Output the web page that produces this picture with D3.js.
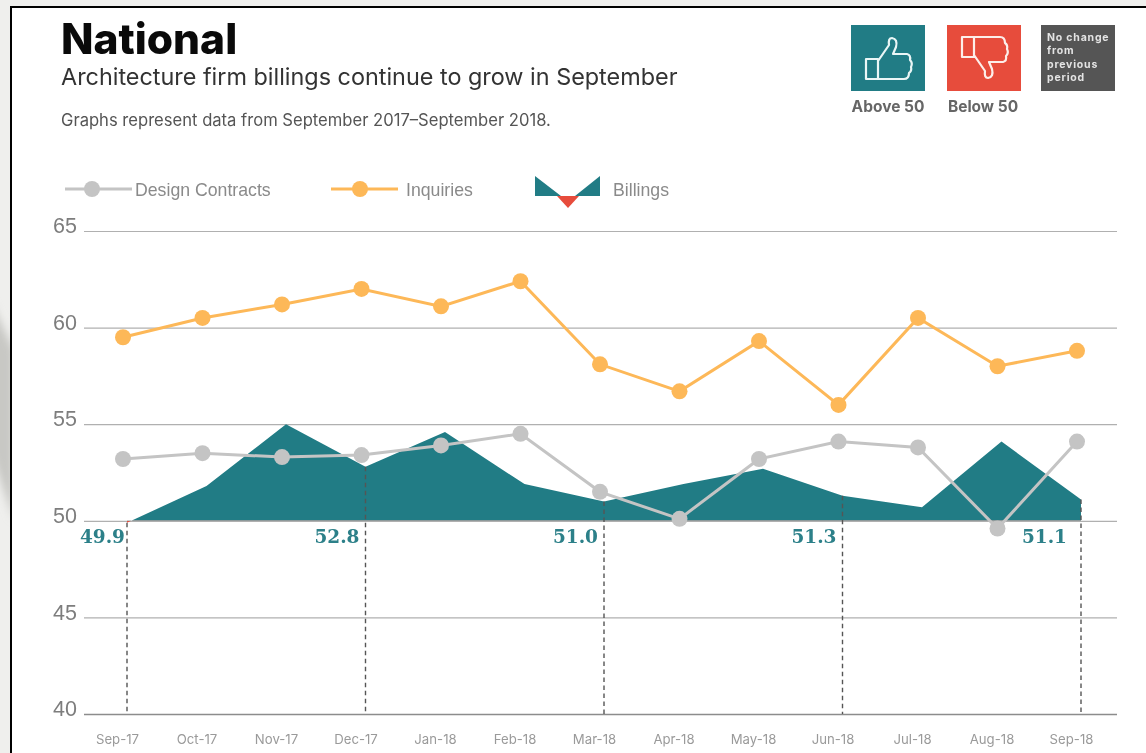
<!DOCTYPE html>
<html>
<head>
<meta charset="utf-8">
<title>National</title>
<script src="https://cdn.jsdelivr.net/npm/d3@7"></script>
<style>
  html, body { margin: 0; padding: 0; background: #fff; overflow: hidden; }
  svg { display: block; filter: blur(0.45px); }
  .y-axis text { font-family: "Liberation Sans", sans-serif; font-size: 21.5px; fill: #7d7d7d; }
  .x-axis text { font-family: "Inter", sans-serif; font-size: 13.2px; fill: #9a9a9a; }
  .legend text { font-family: "Liberation Sans", sans-serif; font-size: 17.7px; fill: #8a8a8a; }
</style>
</head>
<body>
<div id="chart"></div>
<script>
// Data
var months = ["Sep-17", "Oct-17", "Nov-17", "Dec-17", "Jan-18", "Feb-18", "Mar-18",
  "Apr-18", "May-18", "Jun-18", "Jul-18", "Aug-18", "Sep-18"];
var billings = [49.9, 51.8, 55.0, 52.8, 54.6, 51.9, 51.0, 51.9, 52.7, 51.3, 50.7, 54.1, 51.1];
var inquiries = [59.5, 60.5, 61.2, 62.0, 61.1, 62.4, 58.1, 56.7, 59.3, 56.0, 60.5, 58.0, 58.8];
var designContracts = [53.2, 53.5, 53.3, 53.4, 53.9, 54.5, 51.5, 50.1, 53.2, 54.1, 53.8, 49.6, 54.1];
var labelledMonths = ["Sep-17", "Dec-17", "Mar-18", "Jun-18", "Sep-18"];
var yTicks = [40, 45, 50, 55, 60, 65];

var teal = "#217c85", red = "#e74c3c", slate = "#555555";
var orange = "#fdb858", silver = "#c4c4c4";

var width = 1146, height = 753;

var svg = d3.select("#chart").append("svg")
  .attr("width", width)
  .attr("height", height);

var defs = svg.append("defs");
defs.append("filter").attr("id", "soft")
  .append("feGaussianBlur").attr("stdDeviation", 4);

// Grey backdrop and black frame around the graphic
svg.append("rect").attr("width", width).attr("height", height).attr("fill", "#efefed");
svg.append("path")
  .attr("d", "M-10 300 L14 350 L14 520 L-10 450 Z")
  .attr("fill", "#c8c8c4")
  .attr("filter", "url(#soft)");
svg.append("rect")
  .attr("x", 11).attr("y", 7)
  .attr("width", width - 11).attr("height", height - 7)
  .attr("fill", "#fff");
svg.append("path")
  .attr("d", "M11 " + height + " V7 H" + width)
  .attr("fill", "none").attr("stroke", "#000").attr("stroke-width", 2);

// Header
svg.append("text").attr("x", 61).attr("y", 54)
  .style("font-family", "Inter, sans-serif").style("font-weight", 800)
  .style("font-size", "42.5px").style("fill", "#0a0a0a")
  .text("National");
svg.append("text").attr("x", 61).attr("y", 85)
  .style("font-family", "Inter, sans-serif").style("font-size", "23.4px").style("fill", "#333")
  .text("Architecture firm billings continue to grow in September");
svg.append("text").attr("x", 61).attr("y", 126)
  .style("font-family", "Inter, sans-serif").style("font-size", "16.6px").style("fill", "#555")
  .text("Graphs represent data from September 2017\u2013September 2018.");

// Key boxes, top right
var thumb = "M27 36 L38 20 Q37 13 41 13 Q47 14 45 22 L42 29 L56 29 Q60 30 59 35 Q62 38 60 42 Q61 46 58 48 Q58 54 53 54 L27 54 Z M15 34 H27 V54 H15 Z";

var up = svg.append("g").attr("transform", "translate(851,25)");
up.append("rect").attr("width", 74).attr("height", 66).attr("fill", teal);
up.append("path").attr("d", thumb)
  .attr("fill", "none").attr("stroke", "#eaf6f6").attr("stroke-width", 2.2).attr("stroke-linejoin", "round");

var down = svg.append("g").attr("transform", "translate(947,25)");
down.append("rect").attr("width", 74).attr("height", 66).attr("fill", red);
down.append("path").attr("d", thumb)
  .attr("transform", "translate(0,66) scale(1,-1)")
  .attr("fill", "none").attr("stroke", "#fdeeea").attr("stroke-width", 2.2).attr("stroke-linejoin", "round");

var same = svg.append("g").attr("transform", "translate(1041,25)");
same.append("rect").attr("width", 74).attr("height", 66).attr("fill", slate);
same.selectAll("text")
  .data(["No change", "from", "previous", "period"])
  .enter().append("text")
  .attr("x", 6)
  .attr("y", function(d, i) { return 16 + i * 13.3; })
  .style("font-family", "Inter, sans-serif").style("font-weight", 700)
  .style("font-size", "10.5px").style("letter-spacing", "0.8px").style("fill", "#e4e4e4")
  .text(function(d) { return d; });

[["Above 50", 888], ["Below 50", 983]].forEach(function(k) {
  svg.append("text").attr("x", k[1]).attr("y", 112)
    .attr("text-anchor", "middle")
    .style("font-family", "Inter, sans-serif").style("font-weight", 700)
    .style("font-size", "15.5px").style("fill", "#666")
    .text(k[0]);
});

// Scales
var x = d3.scalePoint().domain(months).range([123, 1077]);
var y = d3.scaleLinear().domain([40, 65]).range([714, 231]);

// The billings layer sits a few pixels right of the two line series
var billingsShift = 4;

// Gridlines come from the left axis
var yAxis = svg.append("g")
  .attr("class", "y-axis")
  .attr("transform", "translate(84,0)")
  .call(d3.axisLeft(y).tickValues(yTicks).tickSize(-1033).tickPadding(7));
yAxis.select(".domain").remove();
yAxis.selectAll("line").attr("stroke", "#b0b0b0").attr("stroke-width", 1.2);
yAxis.selectAll("text").attr("dy", "0.08em");
yAxis.selectAll(".tick")
  .filter(function(d) { return d === 40; })
  .select("line").attr("stroke", "#8c8c8c").attr("stroke-width", 1.6);

var xAxis = svg.append("g")
  .attr("class", "x-axis")
  .attr("transform", "translate(-6,729)")
  .call(d3.axisBottom(x).tickSize(0).tickPadding(6));
xAxis.select(".domain").remove();

// Billings area, teal above 50 and red below it
var billingsGroup = svg.append("g")
  .attr("transform", "translate(" + billingsShift + ",0)");

var area = d3.area()
  .x(function(d, i) { return x(months[i]); })
  .y0(y(50))
  .y1(function(d) { return y(d); });

defs.append("clipPath").attr("id", "above")
  .append("rect").attr("x", 0).attr("y", 0).attr("width", width).attr("height", y(50));
defs.append("clipPath").attr("id", "below")
  .append("rect").attr("x", 0).attr("y", y(50)).attr("width", width).attr("height", height - y(50));

billingsGroup.append("path").attr("d", area(billings))
  .attr("fill", teal).attr("clip-path", "url(#above)");
billingsGroup.append("path").attr("d", area(billings))
  .attr("fill", red).attr("clip-path", "url(#below)");

// Dashed drops with their values
var labelled = labelledMonths.map(function(m) {
  return { month: m, value: billings[months.indexOf(m)] };
});

billingsGroup.selectAll("line.drop")
  .data(labelled)
  .enter().append("line")
  .attr("class", "drop")
  .attr("x1", function(d) { return x(d.month); })
  .attr("x2", function(d) { return x(d.month); })
  .attr("y1", function(d) { return y(d.value); })
  .attr("y2", y(40))
  .attr("stroke", "#555")
  .attr("stroke-width", 1.4)
  .attr("stroke-dasharray", "4.5,3.5");

billingsGroup.selectAll("text.value")
  .data(labelled)
  .enter().append("text")
  .attr("class", "value")
  .attr("x", function(d, i) {
    var gap = i === 0 ? 2 : (i === labelled.length - 1 ? 14 : 6);
    return x(d.month) - gap;
  })
  .attr("y", y(50) + 22)
  .attr("text-anchor", "end")
  .style("font-family", "'DejaVu Serif', serif").style("font-weight", 700)
  .style("font-size", "18.5px").style("fill", "#2c8089")
  .text(function(d) { return d.value.toFixed(1); });

// Line series
var line = d3.line()
  .x(function(d, i) { return x(months[i]); })
  .y(function(d) { return y(d); });

function drawSeries(values, color) {
  var g = svg.append("g");
  g.append("path").attr("d", line(values))
    .attr("fill", "none").attr("stroke", color).attr("stroke-width", 3);
  g.selectAll("circle")
    .data(values)
    .enter().append("circle")
    .attr("cx", function(d, i) { return x(months[i]); })
    .attr("cy", function(d) { return y(d); })
    .attr("r", 8)
    .attr("fill", color);
}
drawSeries(designContracts, silver);
drawSeries(inquiries, orange);

// Legend
var legend = svg.append("g").attr("class", "legend");

function legendEntry(x0, x1, dot, color, label, textX) {
  legend.append("line").attr("x1", x0).attr("x2", x1).attr("y1", 189).attr("y2", 189)
    .attr("stroke", color).attr("stroke-width", 3);
  legend.append("circle").attr("cx", dot).attr("cy", 189).attr("r", 8).attr("fill", color);
  legend.append("text").attr("x", textX).attr("y", 196).text(label);
}
legendEntry(65, 132, 92, silver, "Design Contracts", 135);
legendEntry(331, 398, 360, orange, "Inquiries", 406);

legend.append("path").attr("d", "M535 176 L561 196 L535 196 Z M600 176 L575 196 L600 196 Z").attr("fill", teal);
legend.append("path").attr("d", "M557 196 L579 196 L568 208 Z").attr("fill", red);
legend.append("text").attr("x", 613).attr("y", 196).text("Billings");
</script>
</body>
</html>
